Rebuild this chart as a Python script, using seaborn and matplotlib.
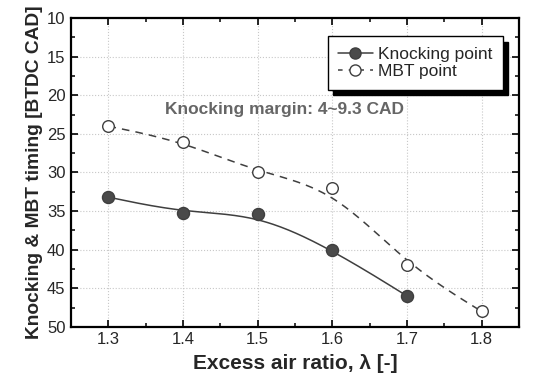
import matplotlib
matplotlib.use("Agg")
import matplotlib.pyplot as plt
from matplotlib.lines import Line2D
from matplotlib.ticker import MultipleLocator
import numpy as np
import pandas as pd
import seaborn as sns

# Data
lam_knock = [1.3, 1.4, 1.5, 1.6, 1.7]
knock_timing = [33.2, 35.2, 35.4, 40.0, 46.0]
lam_mbt = [1.3, 1.4, 1.5, 1.6, 1.7, 1.8]
mbt_timing = [24.0, 26.0, 30.0, 32.0, 42.0, 48.0]

x_ticks = [1.3, 1.4, 1.5, 1.6, 1.7, 1.8]
y_ticks = [10, 15, 20, 25, 30, 35, 40, 45, 50]
note = "Knocking margin: 4~9.3 CAD"


def bspline(xs, ys, n=40):
    # clamped uniform cubic B-spline through the data as control points
    p = np.column_stack([xs, ys]).astype(float)
    p = np.vstack([p[0], p[0], p, p[-1], p[-1]])
    M = np.array([[-1, 3, -3, 1], [3, -6, 3, 0], [-3, 0, 3, 0], [1, 4, 1, 0]]) / 6.0
    out = []
    for i in range(len(p) - 3):
        t = np.linspace(0, 1, n)
        T = np.column_stack([t**3, t**2, t, np.ones_like(t)])
        out.append(T @ M @ p[i:i + 4])
    out = np.vstack(out)
    return pd.DataFrame({"x": out[:, 0], "y": out[:, 1]})


sns.set_theme(style="ticks")
plt.rcParams["font.family"] = ["Liberation Sans", "DejaVu Sans"]

dark = "#3f3f3f"
fig = plt.figure(figsize=(5.35, 3.85), dpi=100)
ax = fig.add_axes([0.133, 0.151, 0.837, 0.802])

knock_curve = bspline(lam_knock, knock_timing)
mbt_curve = bspline(lam_mbt, mbt_timing)

sns.lineplot(data=mbt_curve, x="x", y="y", sort=False, color=dark, lw=1.1,
             ax=ax, linestyle=(0, (5, 4)))
sns.lineplot(data=knock_curve, x="x", y="y", sort=False, color=dark, lw=1.1, ax=ax)

df_k = pd.DataFrame({"lam": lam_knock, "t": knock_timing})
df_m = pd.DataFrame({"lam": lam_mbt, "t": mbt_timing})
sns.scatterplot(data=df_m, x="lam", y="t", s=70, color="white", edgecolor=dark,
                linewidth=1.0, ax=ax, zorder=5)
sns.scatterplot(data=df_k, x="lam", y="t", s=75, color="#4a4a4a", edgecolor=dark,
                linewidth=1.0, ax=ax, zorder=5)

ax.set_xlim(1.25, 1.85)
ax.set_ylim(50, 10)
ax.set_xticks(x_ticks)
ax.set_yticks(y_ticks)
ax.xaxis.set_minor_locator(MultipleLocator(0.05))
ax.yaxis.set_minor_locator(MultipleLocator(2.5))
ax.tick_params(which="both", direction="in", top=True, right=True,
               labeltop=False, labelright=False, color="black")
ax.tick_params(which="major", length=5, width=1.2, labelsize=12, pad=4)
ax.tick_params(which="minor", length=3, width=1.1)
ax.grid(True, which="major", linestyle=":", color="#c8c8c8", lw=0.8)
for s in ax.spines.values():
    s.set_color("black")
    s.set_linewidth(1.6)

ax.set_xlabel("Excess air ratio, λ [-]", fontsize=15, fontweight="bold", labelpad=5)
ax.set_ylabel("Knocking & MBT timing [BTDC CAD]", fontsize=13.8, fontweight="bold", labelpad=3)

ax.text(1.536, 21.9, note, ha="center", va="center", fontsize=12.5,
        fontweight="bold", color="#666666")

handles = [
    Line2D([], [], color=dark, lw=1.1, marker="o", markersize=8,
           markerfacecolor="#4a4a4a", markeredgecolor=dark),
    Line2D([], [], color=dark, lw=1.1, linestyle=(0, (3, 4)), marker="o", markersize=8,
           markerfacecolor="white", markeredgecolor=dark),
]
leg = ax.legend(handles, ["Knocking point", "MBT point"], loc="upper right",
                bbox_to_anchor=(0.983, 0.97), fontsize=12.5, frameon=True,
                fancybox=False, edgecolor="black", handlelength=2.0,
                handletextpad=0.3, borderpad=0.6, labelspacing=0.15,
                shadow={"color": "black", "alpha": 1.0, "ox": 4, "oy": -4})
leg.get_frame().set_linewidth(1.0)

fig.savefig("out.png", dpi=100)
plt.close(fig)
